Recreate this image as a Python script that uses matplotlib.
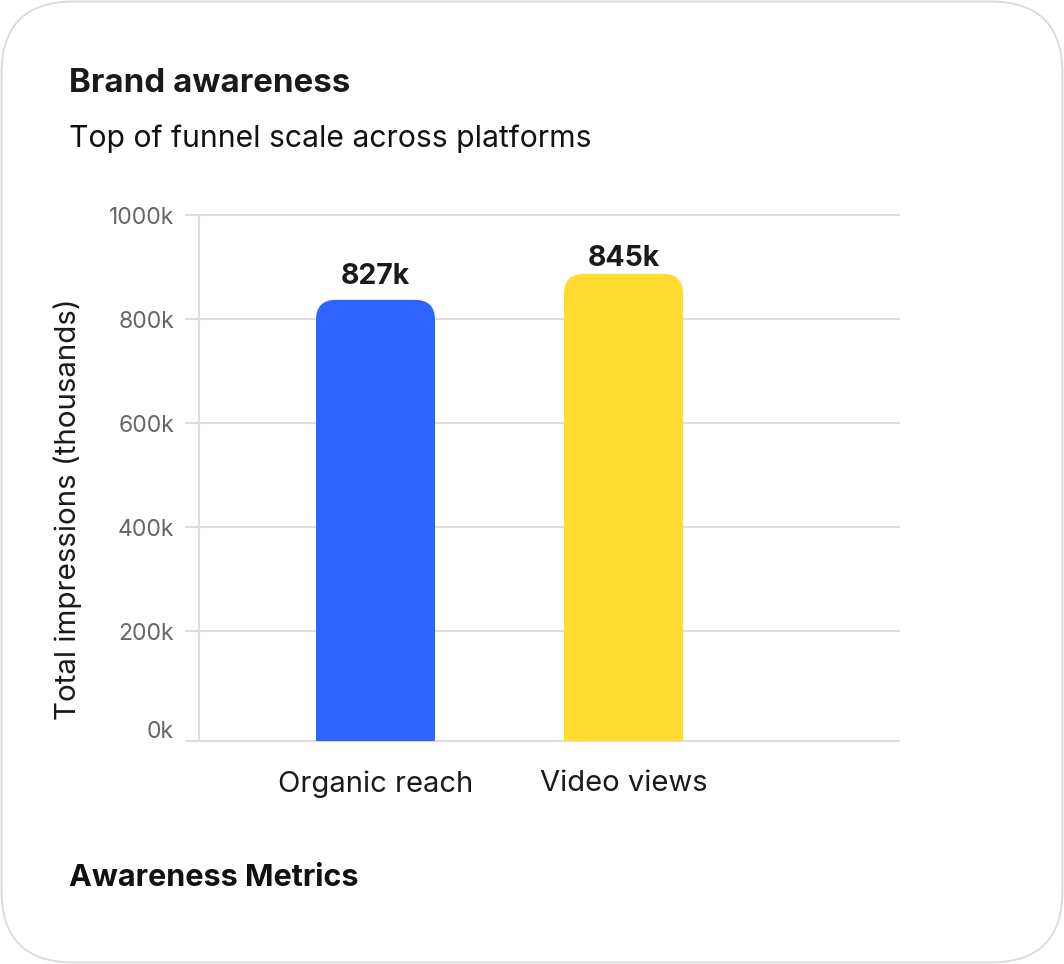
import matplotlib.pyplot as plt
from matplotlib.patches import FancyBboxPatch, Rectangle
from matplotlib.transforms import offset_copy

plt.rcParams['font.family'] = ['Inter', 'DejaVu Sans']

categories = ["Organic reach", "Video views"]
values = [837, 887]
value_labels = ["827k", "845k"]
colors = ["#2F63FF", "#FFDC2F"]
yticks = [0, 200, 400, 600, 800, 1000]
ytick_labels = ["0k", "200k", "400k", "600k", "800k", "1000k"]

W, H = 1064, 964
fig = plt.figure(figsize=(W / 100, H / 100), dpi=100)

# background card in pixel coordinates
bg = fig.add_axes([0, 0, 1, 1], zorder=0)
bg.set_xlim(0, W)
bg.set_ylim(H, 0)
bg.axis("off")
card = FancyBboxPatch((1.5, 1.5), W - 3, H - 3,
                      boxstyle="round,pad=0,rounding_size=72",
                      facecolor="white", edgecolor="#DADADA", linewidth=1.3)
bg.add_patch(card)

bg.text(69, 92, "Brand awareness", fontsize=23.8, fontweight="bold",
        color="#1A1A1A", va="baseline", ha="left")
bg.text(69, 147, "Top of funnel scale across platforms", fontsize=21.7,
        color="#111111", va="baseline", ha="left")
bg.text(69, 886, "Awareness Metrics", fontsize=22, fontweight="bold",
        color="#111111", va="baseline", ha="left")
bg.text(68, 509, "Total impressions (thousands)", fontsize=21.3,
        color="#1A1A1A", rotation=90, va="center", ha="center")

# main plot
left, right, top, bottom = 199, 900, 215, 741
ax = fig.add_axes([left / W, (H - bottom) / H, (right - left) / W, (bottom - top) / H],
                  zorder=1)
ax.patch.set_alpha(0)

step_px = 248
x_lo = -(375.5 - left) / step_px
x_hi = (right - 375.5) / step_px
ybot = -10.6
ax.set_xlim(x_lo, x_hi)
ax.set_ylim(ybot, 1000)

grid_c = "#DDDDDD"
tick_ext = 14 / step_px
for y in yticks[1:] + [ybot]:
    ax.plot([x_lo - tick_ext, x_hi], [y, y], color=grid_c, lw=1.5,
            clip_on=False, zorder=1, solid_capstyle="butt")

for s in ["top", "right", "bottom"]:
    ax.spines[s].set_visible(False)
ax.spines["left"].set_color(grid_c)
ax.spines["left"].set_linewidth(1.5)

ax.set_yticks(yticks)
ax.set_yticklabels(ytick_labels)
ax.tick_params(axis="y", length=0, pad=18, labelsize=16.5, labelcolor="#666666")
# the bottom label sits a little higher in the reference
lab0 = ax.get_yticklabels()[0]
lab0.set_transform(offset_copy(lab0.get_transform(), fig=fig, x=0, y=6, units="dots"))
ax.set_xticks(range(len(categories)))
ax.set_xticklabels(categories)
ax.tick_params(axis="x", length=0, pad=21, labelsize=21, labelcolor="#1A1A1A")

bar_w = 119 / step_px
rx = 20 / step_px
ry = 20 / ((bottom - top) / (1000 - ybot))
label_offsets = [11.5, 5.5]
for i, (v, c) in enumerate(zip(values, colors)):
    x0 = i - bar_w / 2
    h = v - ybot
    ax.add_patch(FancyBboxPatch((x0, ybot), bar_w, h,
                                boxstyle=f"round,pad=0,rounding_size={rx}",
                                mutation_aspect=ry / rx, facecolor=c,
                                edgecolor="none", zorder=2, clip_on=False))
    ax.add_patch(Rectangle((x0, ybot), bar_w, h - ry, facecolor=c,
                           edgecolor="none", zorder=2, clip_on=False))
    ax.annotate(value_labels[i], (i, v), xytext=(0, label_offsets[i]),
                textcoords="offset points", ha="center", va="baseline",
                fontsize=20.5, fontweight="bold", color="#1A1A1A")

fig.savefig("out.png", dpi=100)
